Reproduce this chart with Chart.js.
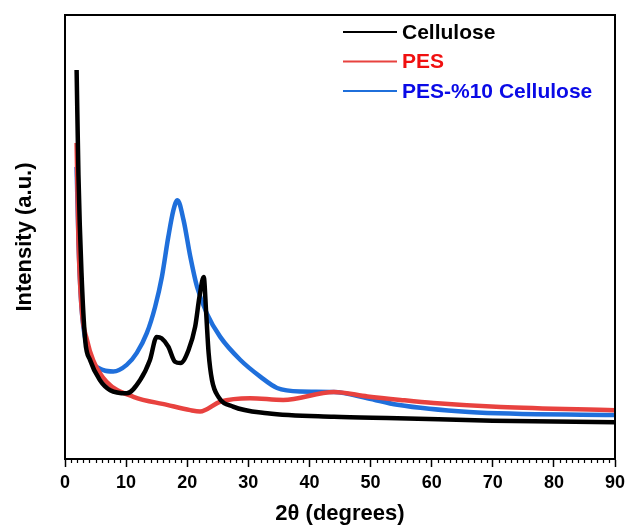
<!DOCTYPE html>
<html>
<head>
<meta charset="utf-8">
<script src="https://cdn.jsdelivr.net/npm/chart.js@4.4.1/dist/chart.umd.min.js"></script>
<style>
    body { margin: 0; background: #ffffff; }
    canvas { display: block; }
</style>
</head>
<body>
<canvas id="chart" width="626" height="532"></canvas>
<script>
const seriesLabels = ['Cellulose', 'PES', 'PES-%10 Cellulose'];
const lineColors = ['#000000', '#e8423f', '#1f6fdb'];
const legendTextColors = ['#000000', '#f01010', '#0a0ae6'];

const celluloseX = [1.9, 2.2, 2.7, 3.3, 4.1, 5.7, 7.4, 10.1, 12.3, 13.9, 15, 15.8, 16.9, 18, 18.9, 20.2, 21.3, 22, 22.7, 23.1, 23.5, 24.05, 25.1, 27.5, 33.1, 44, 54.4, 70, 90];
const celluloseY = [87.6, 64, 41.9, 26.8, 22.3, 17.8, 15.5, 14.8, 17.8, 22.3, 27.5, 27.2, 25.3, 21.9, 21.6, 24.5, 29.8, 36.5, 41, 32.9, 23.9, 17.8, 14, 11.8, 10.3, 9.5, 9.2, 8.6, 8.3];

const pesX = [1.9, 2.2, 2.7, 3.6, 4.6, 6.8, 11.2, 16.7, 20.5, 22.1, 25.4, 30.3, 35.7, 44, 49.5, 54.9, 60.3, 71.3, 90];
const pesY = [71.2, 49.3, 34.2, 26.8, 22.3, 17.4, 14, 12.2, 11, 10.7, 12.9, 13.7, 13.3, 15.1, 14.1, 13.3, 12.6, 11.7, 11];

const blendX = [1.9, 2.2, 2.7, 3.6, 4.6, 6.3, 7.9, 10.1, 11.75, 13.4, 14.75, 15.85, 16.9, 17.75, 18.4, 19.4, 20.5, 21.6, 23.2, 25.4, 28.7, 32, 34.7, 38.5, 44, 49.5, 54.4, 66.1, 90];
const blendY = [65.8, 49.3, 34.2, 25.2, 21.6, 20, 19.7, 21.2, 23.9, 28.4, 34.3, 41, 50, 56.1, 58.3, 53.8, 45.6, 38.8, 32.8, 27.5, 22.3, 18.5, 16, 15.2, 15.1, 13.7, 12.2, 10.6, 9.9];

const xTickStep = 10;
const xMinorStep = 1;

function toPoints(xs, ys) {
    return xs.map((x, i) => ({ x: x, y: ys[i] }));
}

const seriesData = [
    toPoints(celluloseX, celluloseY),
    toPoints(pesX, pesY),
    toPoints(blendX, blendY)
];

const fontFamily = '"Liberation Sans", Arial, sans-serif';

// frame, minor ticks and the in-plot legend
const decorations = {
    id: 'decorations',
    afterDraw(chart) {
        const ctx = chart.ctx;
        const area = chart.chartArea;
        const xScale = chart.scales.x;

        ctx.save();
        ctx.strokeStyle = '#000000';
        ctx.lineWidth = 2;
        ctx.strokeRect(area.left, area.top, area.right - area.left, area.bottom - area.top);

        ctx.lineWidth = 1.2;
        for (let v = xScale.min; v <= xScale.max; v += xMinorStep) {
            if (v % xTickStep === 0) continue;
            const px = Math.round(xScale.getPixelForValue(v)) + 0.5;
            ctx.beginPath();
            ctx.moveTo(px, area.bottom);
            ctx.lineTo(px, area.bottom + 4);
            ctx.stroke();
        }

        ctx.font = 'bold 21px ' + fontFamily;
        ctx.textBaseline = 'middle';
        chart.data.datasets.forEach((ds, i) => {
            const y = 32 + i * 29.5;
            ctx.strokeStyle = ds.borderColor;
            ctx.lineWidth = 2;
            ctx.beginPath();
            ctx.moveTo(343, y);
            ctx.lineTo(397, y);
            ctx.stroke();
            ctx.fillStyle = legendTextColors[i];
            ctx.fillText(ds.label, 402, y + 1);
        });
        ctx.restore();
    }
};

document.addEventListener("DOMContentLoaded", () => {
    const canvas = document.getElementById('chart');

    new Chart(canvas, {
        type: 'line',
        data: {
            datasets: seriesLabels.map((label, i) => ({
                label: label,
                data: seriesData[i],
                borderColor: lineColors[i],
                backgroundColor: lineColors[i],
                borderWidth: 4.5,
                pointRadius: 0,
                cubicInterpolationMode: 'monotone',
                fill: false
            }))
        },
        options: {
            responsive: false,
            animation: false,
            layout: {
                padding: { top: 15, right: 11, left: 0, bottom: 0 }
            },
            plugins: {
                legend: { display: false },
                tooltip: { enabled: false }
            },
            scales: {
                x: {
                    type: 'linear',
                    min: 0,
                    max: 90,
                    ticks: {
                        stepSize: xTickStep,
                        color: '#000000',
                        padding: 5,
                        maxRotation: 0,
                        font: { family: fontFamily, size: 18, weight: 'bold' }
                    },
                    grid: {
                        drawOnChartArea: false,
                        tickLength: 8,
                        tickColor: '#000000',
                        tickWidth: 1.5
                    },
                    border: { color: '#000000', width: 2 },
                    title: {
                        display: true,
                        text: '2θ (degrees)',
                        color: '#000000',
                        padding: { top: 4, bottom: 5 },
                        font: { family: fontFamily, size: 22, weight: 'bold' }
                    },
                    afterFit: (scale) => {
                        scale.height = 73;
                        scale.paddingLeft = 0;
                        scale.paddingRight = 0;
                    }
                },
                y: {
                    min: 0,
                    max: 100,
                    ticks: { display: false },
                    grid: { display: false },
                    border: { color: '#000000', width: 2 },
                    title: {
                        display: true,
                        text: 'Intensity (a.u.)',
                        color: '#000000',
                        padding: { top: 12, bottom: 0 },
                        font: { family: fontFamily, size: 22, weight: 'bold' }
                    },
                    afterFit: (scale) => { scale.width = 65; }
                }
            }
        },
        plugins: [decorations]
    });
});
</script>
</body>
</html>
